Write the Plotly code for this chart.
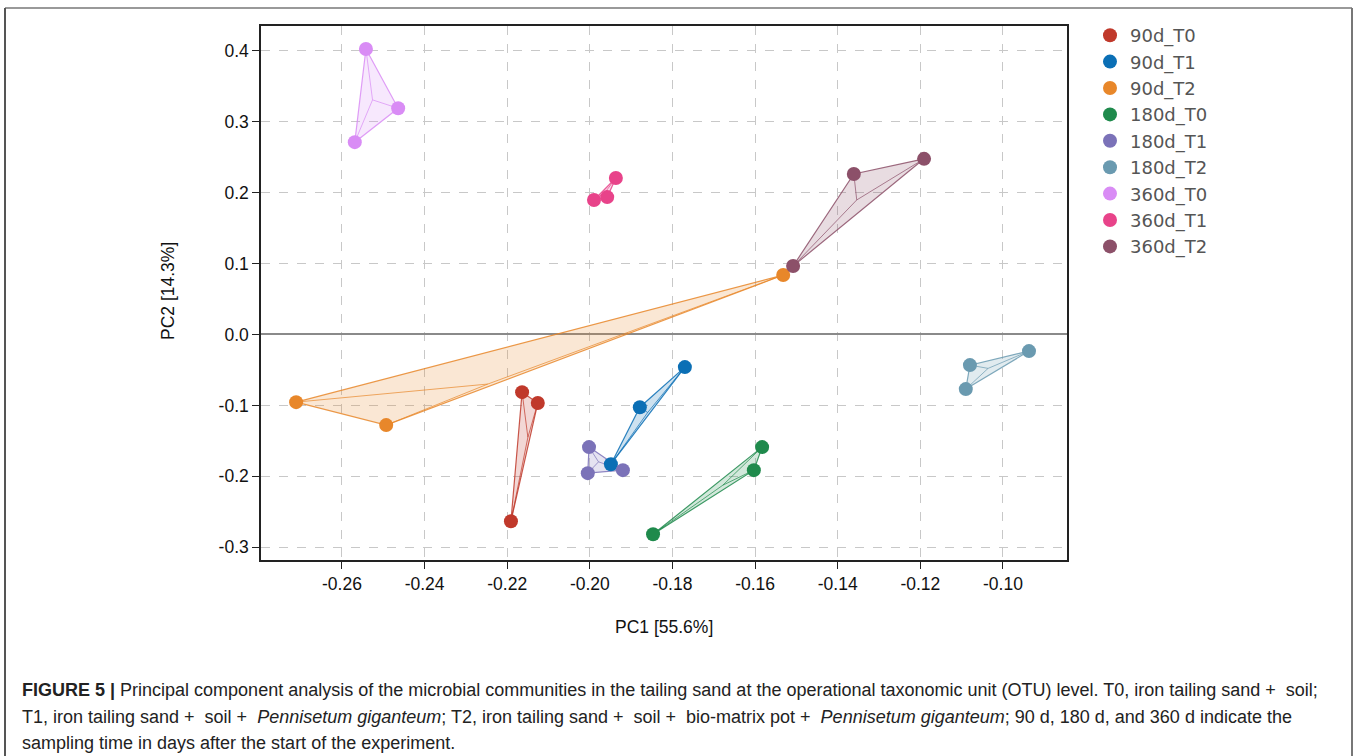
import plotly.graph_objects as go

groups = ["90d_T0", "90d_T1", "90d_T2", "180d_T0", "180d_T1", "180d_T2", "360d_T0", "360d_T1", "360d_T2"]
colors = ["#c0392b", "#0b6fb5", "#e8872a", "#1f8a4c", "#7b72b8", "#6a9ab0", "#d98cf5", "#e8438a", "#8c5069"]

pc1 = {
    "90d_T0": [-0.2164, -0.2126, -0.2191],
    "90d_T1": [-0.1770, -0.1879, -0.1949],
    "90d_T2": [-0.1532, -0.2711, -0.2493],
    "180d_T0": [-0.1583, -0.1603, -0.1847],
    "180d_T1": [-0.2002, -0.2005, -0.1920],
    "180d_T2": [-0.0937, -0.1080, -0.1090],
    "360d_T0": [-0.2542, -0.2464, -0.2569],
    "360d_T1": [-0.1937, -0.1958, -0.1990],
    "360d_T2": [-0.1191, -0.1361, -0.1508],
}
pc2 = {
    "90d_T0": [-0.0813, -0.0967, -0.2633],
    "90d_T1": [-0.0460, -0.1025, -0.1829],
    "90d_T2": [0.0838, -0.0954, -0.1278],
    "180d_T0": [-0.1588, -0.1913, -0.2817],
    "180d_T1": [-0.1588, -0.1955, -0.1913],
    "180d_T2": [-0.0234, -0.0432, -0.0770],
    "360d_T0": [0.4025, 0.3190, 0.2712],
    "360d_T1": [0.2206, 0.1937, 0.1896],
    "360d_T2": [0.2477, 0.2263, 0.0965],
}
# interior apex of each hull (projected group centre)
apex_pc1 = [-0.2150, -0.1860, -0.2247, -0.1678, -0.1979, -0.1036, -0.2526, -0.1962, -0.1354]
apex_pc2 = [-0.1450, -0.1100, -0.0699, -0.2125, -0.1796, -0.0478, 0.3308, 0.2013, 0.1897]

x_ticks = [-0.26, -0.24, -0.22, -0.20, -0.18, -0.16, -0.14, -0.12, -0.10]
x_ticklabels = ["-0.26", "-0.24", "-0.22", "-0.20", "-0.18", "-0.16", "-0.14", "-0.12", "-0.10"]
y_ticks = [-0.3, -0.2, -0.1, 0.0, 0.1, 0.2, 0.3, 0.4]
y_ticklabels = ["-0.3", "-0.2", "-0.1", "0.0", "0.1", "0.2", "0.3", "0.4"]


def rgba(hexc, a):
    h = hexc.lstrip("#")
    return "rgba(%d,%d,%d,%s)" % (int(h[0:2], 16), int(h[2:4], 16), int(h[4:6], 16), a)


fig = go.Figure()

for i, g in enumerate(groups):
    xs, ys = pc1[g], pc2[g]
    c = colors[i]
    fig.add_trace(go.Scatter(
        x=xs + [xs[0]], y=ys + [ys[0]], mode="lines", fill="toself",
        fillcolor=rgba(c, 0.2), line=dict(color=rgba(c, 0.85), width=1.2),
        showlegend=False, hoverinfo="skip"))
    sx, sy = [], []
    for xv, yv in zip(xs, ys):
        sx += [apex_pc1[i], xv, None]
        sy += [apex_pc2[i], yv, None]
    fig.add_trace(go.Scatter(
        x=sx, y=sy, mode="lines", line=dict(color=rgba(c, 0.7), width=1),
        showlegend=False, hoverinfo="skip"))

for i, g in enumerate(groups):
    fig.add_trace(go.Scatter(
        x=pc1[g], y=pc2[g], mode="markers", name=g,
        marker=dict(color=colors[i], size=14)))

axis_font = dict(family="Liberation Sans, Arial, sans-serif", size=17.5, color="#111")
grid_common = dict(showgrid=True, gridcolor="#c8c8c8", griddash="dash", gridwidth=1.2,
                   showline=True, linecolor="#222", linewidth=1.5, mirror=True,
                   ticks="outside", ticklen=7, tickcolor="#222", tickwidth=1.2,
                   tickfont=axis_font)

fig.update_xaxes(range=[-0.2796, -0.0845], tickvals=x_ticks, ticktext=x_ticklabels,
                 zeroline=False, **grid_common)
fig.update_yaxes(range=[-0.318, 0.435], tickvals=y_ticks, ticktext=y_ticklabels,
                 zeroline=True, zerolinecolor="#8a8a8a", zerolinewidth=1.5, **grid_common)

L, R, T, B = 261, 292, 26, 196
W, H = 1359, 756
pw, ph = W - L - R, H - T - B


def px(xp):
    return (xp - L) / pw


def py(yp):
    return (H - B - yp) / ph


title_font = dict(family="Liberation Sans, Arial, sans-serif", size=17.5, color="#111")
annotations = [
    dict(text="PC1 [55.6%]", x=px(664), y=py(627), xref="paper", yref="paper",
         xanchor="center", yanchor="middle", showarrow=False, font=title_font),
    dict(text="PC2 [14.3%]", x=px(168), y=py(291), xref="paper", yref="paper",
         xanchor="center", yanchor="middle", showarrow=False, textangle=-90, font=title_font),
]
cap_font = dict(family="Liberation Sans, Arial, sans-serif", size=18, color="#222")
cap_lines = [
    "<b>FIGURE 5 |</b> Principal component analysis of the microbial communities in the tailing sand at the operational taxonomic unit (OTU) level. T0, iron tailing sand +  soil;",
    "T1, iron tailing sand +  soil +  <i>Pennisetum giganteum</i>; T2, iron tailing sand +  soil +  bio-matrix pot +  <i>Pennisetum giganteum</i>; 90 d, 180 d, and 360 d indicate the",
    "sampling time in days after the start of the experiment.",
]
for k, t in enumerate(cap_lines):
    annotations.append(dict(text=t, x=px(20), y=py(690 + 26.5 * k), xref="paper", yref="paper",
                            xanchor="left", yanchor="middle", showarrow=False, font=cap_font))

shapes = [
    dict(type="line", xref="paper", yref="paper", x0=px(5), x1=px(1352), y0=py(8), y1=py(8),
         line=dict(color="#999", width=2)),
    dict(type="line", xref="paper", yref="paper", x0=px(5), x1=px(5), y0=py(8), y1=py(760),
         line=dict(color="#555", width=2)),
    dict(type="line", xref="paper", yref="paper", x0=px(1352), x1=px(1352), y0=py(8), y1=py(760),
         line=dict(color="#777", width=2)),
]

fig.update_layout(
    width=W, height=H, margin=dict(l=L, r=R, t=T, b=B),
    paper_bgcolor="white", plot_bgcolor="white",
    legend=dict(x=px(1090), y=py(17), xanchor="left", yanchor="top",
                font=dict(family="DejaVu Sans, sans-serif", size=18, color="#555"),
                bgcolor="rgba(0,0,0,0)", tracegroupgap=0),
    annotations=annotations, shapes=shapes,
)

fig.write_html("out.html")
